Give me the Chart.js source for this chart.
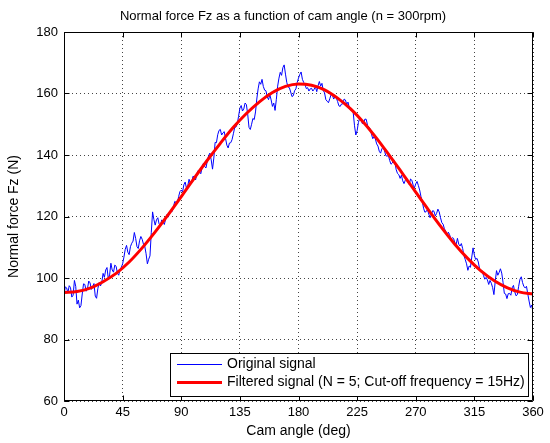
<!DOCTYPE html>
<html>
<head>
<meta charset="utf-8">
<title>Normal force Fz</title>
<script src="https://cdn.jsdelivr.net/npm/chart.js@4.4.1/dist/chart.umd.min.js"></script>
<style>
  html, body { margin: 0; padding: 0; background: #fff; }
</style>
</head>
<body>
<canvas id="grafico" width="550" height="443"></canvas>
<script>
// measured normal force (N), one sample per degree of cam rotation
const rawStep = 1;
const rawForce = [
  94.5, 97.1, 96.8, 95.2, 97.5, 96.9, 93.8, 94.4, 99.2, 97.3, 91.5, 92.8, 90.3, 91.0, 94.8, 98.1, 97.9, 95.7, 96.5, 99.0,
  98.4, 96.3, 97.2, 98.2, 94.1, 93.4, 96.6, 98.5, 97.4, 98.6, 101.5, 100.2, 102.6, 103.4, 99.8, 101.0, 104.8, 102.6, 101.9, 104.2,
  103.8, 101.6, 100.9, 102.8, 103.5, 104.6, 106.8, 109.3, 110.6, 108.4, 107.6, 110.2, 111.3, 112.0, 114.8, 112.9, 110.2, 109.6, 112.1, 113.5,
  112.6, 111.0, 110.3, 107.9, 104.6, 106.1, 107.2, 114.8, 121.5, 119.0, 117.2, 118.9, 119.6, 117.6, 117.0, 118.9, 118.3, 117.4, 119.1, 120.6,
  119.8, 121.4, 122.0, 121.6, 123.1, 124.9, 124.6, 124.3, 126.5, 128.1, 128.6, 128.0, 130.3, 131.2, 129.2, 130.0, 132.1, 130.7, 131.0, 133.1,
  132.9, 131.9, 133.8, 135.0, 134.6, 133.9, 135.9, 137.3, 136.2, 135.8, 138.1, 139.8, 140.6, 138.4, 135.4, 139.0, 144.1, 144.0, 146.6, 148.0,
  148.3, 146.5, 147.2, 147.6, 145.4, 143.2, 142.3, 143.9, 144.0, 145.0, 146.9, 148.9, 149.1, 150.1, 152.6, 155.2, 156.1, 154.3, 155.0, 156.9,
  156.4, 153.3, 149.0, 148.3, 150.0, 151.9, 151.5, 154.0, 158.2, 161.5, 163.8, 163.0, 164.6, 162.3, 161.1, 160.9, 158.9, 158.0, 159.6, 157.9,
  155.8, 156.9, 154.5, 158.1, 162.4, 165.0, 166.9, 165.9, 168.4, 169.3, 166.3, 163.6, 162.1, 161.9, 160.5, 159.0, 159.3, 160.9, 161.5, 163.6,
  165.0, 166.2, 167.0, 164.6, 163.6, 162.9, 161.6, 161.9, 160.8, 161.5, 161.7, 160.8, 161.4, 162.2, 160.6, 162.5, 163.9, 162.4, 163.3, 161.0,
  160.2, 158.0, 157.5, 157.0, 158.3, 159.6, 159.5, 158.2, 158.9, 158.6, 157.4, 156.0, 155.8, 156.6, 156.6, 158.2, 157.9, 156.5, 157.2, 155.4,
  154.6, 155.0, 153.8, 149.5, 146.5, 147.9, 150.6, 152.0, 151.5, 150.2, 150.4, 151.7, 151.6, 149.6, 149.0, 148.6, 146.8, 145.3, 145.9, 145.2,
  143.6, 142.9, 141.2, 140.6, 142.0, 142.6, 141.4, 139.8, 139.6, 139.9, 138.2, 137.0, 137.4, 138.5, 137.6, 135.2, 134.0, 133.6, 132.4, 133.4,
  131.6, 130.7, 131.8, 132.4, 131.2, 130.4, 132.2, 131.8, 130.2, 129.3, 130.6, 131.4, 130.1, 128.6, 126.5, 124.9, 122.7, 121.4, 121.6, 122.3,
  120.8, 119.6, 120.6, 121.9, 121.7, 120.2, 121.0, 122.4, 121.5, 119.6, 118.0, 117.5, 116.0, 115.2, 113.8, 114.9, 114.1, 112.6, 113.1, 112.9,
  111.5, 110.9, 112.9, 111.0, 110.4, 111.2, 109.6, 107.3, 106.0, 104.6, 102.5, 103.9, 103.5, 106.8, 109.8, 107.4, 106.0, 106.4, 105.2, 103.0,
  102.0, 102.3, 100.8, 99.6, 100.2, 99.4, 97.9, 99.2, 98.3, 96.9, 94.6, 98.9, 102.4, 100.9, 101.8, 103.0, 101.6, 98.6, 95.0, 94.8,
  93.3, 94.9, 95.0, 94.4, 96.8, 97.6, 95.5, 94.2, 94.6, 97.3, 99.6, 100.4, 98.5, 97.2, 96.8, 97.3, 94.8, 92.5, 90.4, 91.2,
  88.9
];

// butterworth output (N = 5, fc = 15 Hz), one sample every 10 deg
const filtStep = 10;
const filtForce = [
  95.3, 95.6, 96.7, 98.8, 101.5, 105.2, 109.8, 115.0, 120.6, 126.5,
  132.5, 138.3, 143.8, 149.0, 153.5, 157.3, 160.3, 162.3, 163.1, 162.7,
  161.2, 158.5, 155.0, 150.6, 145.4, 139.7, 133.9, 127.9, 122.0, 116.3,
  111.0, 106.3, 102.3, 99.2, 96.9, 95.4, 94.8
];

const xTicks = [0, 45, 90, 135, 180, 225, 270, 315, 360];
const yTicks = [60, 80, 100, 120, 140, 160, 180];

const seriesNames = ['Original signal', 'Filtered signal (N = 5; Cut-off frequency = 15Hz)'];
const plotTitle = 'Normal force Fz as a function of cam angle (n = 300rpm)';

const FONT = "'Liberation Sans', Arial, sans-serif";
Chart.defaults.font.family = FONT;
Chart.defaults.font.size = 13;
Chart.defaults.color = '#000';

const toPoints = (vals, step) => vals.map((y, i) => ({ x: i * step, y: y }));

// white page, title, box around the axes, inward ticks and the legend box
const matlabAxes = {
  id: 'matlabAxes',
  beforeDraw(chart) {
    const c = chart.ctx;
    c.save();
    c.fillStyle = '#fff';
    c.fillRect(0, 0, chart.width, chart.height);
    c.font = '13px ' + FONT;
    c.fillStyle = '#000';
    c.textAlign = 'center';
    c.textBaseline = 'middle';
    c.fillText(plotTitle, 283, 16);
    c.restore();
  },
  afterDatasetsDraw(chart) {
    const c = chart.ctx;
    const a = chart.chartArea;
    const sx = chart.scales.x, sy = chart.scales.y;
    const L = Math.round(a.left) + 0.5, R = Math.round(a.right) - 0.5;
    const T = Math.round(a.top) + 0.5, B = Math.round(a.bottom) - 0.5;
    c.save();
    c.strokeStyle = '#000';
    c.lineWidth = 1;
    c.beginPath();
    c.rect(L, T, R - L, B - T);
    xTicks.forEach(v => {
      const px = Math.round(sx.getPixelForValue(v)) + 0.5;
      c.moveTo(px, B); c.lineTo(px, B - 5);
      c.moveTo(px, T); c.lineTo(px, T + 5);
    });
    yTicks.forEach(v => {
      const py = Math.round(sy.getPixelForValue(v)) + 0.5;
      c.moveTo(L, py); c.lineTo(L + 5, py);
      c.moveTo(R, py); c.lineTo(R - 5, py);
    });
    c.stroke();

    // legend
    const bx = 170.5, by = 353.5, bw = 358, bh = 43;
    c.fillStyle = '#fff';
    c.fillRect(bx, by, bw, bh);
    c.strokeRect(bx, by, bw, bh);
    c.font = '14px ' + FONT;
    c.textBaseline = 'middle';
    c.textAlign = 'left';
    chart.data.datasets.forEach((ds, i) => {
      const ly = 364.5 + i * 18;
      c.strokeStyle = ds.borderColor;
      c.lineWidth = ds.borderWidth;
      c.beginPath();
      c.moveTo(177, ly); c.lineTo(222, ly);
      c.stroke();
      c.fillStyle = '#000';
      c.fillText(ds.label, 227, ly);
    });
    c.restore();
  }
};

new Chart(document.getElementById('grafico').getContext('2d'), {
  type: 'line',
  data: {
    datasets: [{
      label: seriesNames[0],
      data: toPoints(rawForce, rawStep),
      borderColor: '#0000ff',
      borderWidth: 1,
      pointRadius: 0,
      tension: 0,
      order: 1
    }, {
      label: seriesNames[1],
      data: toPoints(filtForce, filtStep),
      borderColor: '#ff0000',
      borderWidth: 3,
      pointRadius: 0,
      cubicInterpolationMode: 'monotone',
      order: 0
    }]
  },
  options: {
    responsive: false,
    animation: false,
    events: [],
    layout: { padding: { left: 0, right: 17, top: 32, bottom: 0 } },
    scales: {
      x: {
        type: 'linear',
        min: 0,
        max: 360,
        afterBuildTicks: s => { s.ticks = xTicks.map(v => ({ value: v })); },
        afterFit: s => { s.height = 42; },
        ticks: { autoSkip: false, maxRotation: 0, padding: 4 },
        grid: { color: '#444', drawTicks: false },
        border: { display: false, dash: [1, 3] },
        title: { display: true, text: 'Cam angle (deg)', font: { size: 14 }, padding: { top: 0, bottom: 3.6 } }
      },
      y: {
        min: 60,
        max: 180,
        afterBuildTicks: s => { s.ticks = yTicks.map(v => ({ value: v })); },
        afterFit: s => { s.width = 64; },
        ticks: { padding: 6 },
        grid: { color: '#444', drawTicks: false },
        border: { display: false, dash: [1, 3] },
        title: { display: true, text: 'Normal force Fz (N)', font: { size: 14 }, padding: { top: 5.6, bottom: 0 } }
      }
    },
    plugins: {
      legend: { display: false },
      tooltip: { enabled: false },
      title: { display: false }
    }
  },
  plugins: [matlabAxes]
});
</script>
</body>
</html>
